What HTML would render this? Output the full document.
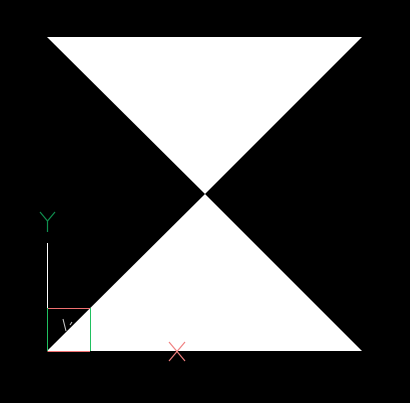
<!DOCTYPE html>
<html><head><style>html,body{margin:0;padding:0;background:#000;width:410px;height:403px;overflow:hidden}</style></head>
<body>
<svg width="410" height="403" xmlns="http://www.w3.org/2000/svg">
<rect width="410" height="403" fill="#000"/>
<polygon points="47,37 362,37 205,194" fill="#fff"/>
<polygon points="205,194 362,351 47,351" fill="#fff"/>
<g>
<line x1="47.5" y1="243" x2="47.5" y2="308" stroke="#fff" stroke-width="1"/>
<line x1="47.5" y1="308.5" x2="90" y2="308.5" stroke="#f07070" stroke-width="1"/>
<line x1="47.5" y1="351.5" x2="90" y2="351.5" stroke="#f07070" stroke-width="1"/>
<line x1="47.5" y1="308" x2="47.5" y2="351" stroke="#20c060" stroke-width="1"/>
<line x1="90.5" y1="308" x2="90.5" y2="351" stroke="#20c060" stroke-width="1"/>
<line x1="63" y1="319" x2="66" y2="331" stroke="#ccc" stroke-width="1"/>
<line x1="70" y1="325" x2="72" y2="322" stroke="#ccc" stroke-width="1"/>
<g stroke="#109050" stroke-width="1.2">
<line x1="40" y1="212" x2="47.5" y2="221"/><line x1="55" y1="212" x2="47.5" y2="221"/><line x1="47.5" y1="221" x2="47.5" y2="232"/>
</g>
<g stroke="#f08080" stroke-width="1.2">
<line x1="169" y1="342" x2="185" y2="361"/><line x1="185" y1="342" x2="169" y2="361"/>
</g>
</g>
</svg>
</body></html>
